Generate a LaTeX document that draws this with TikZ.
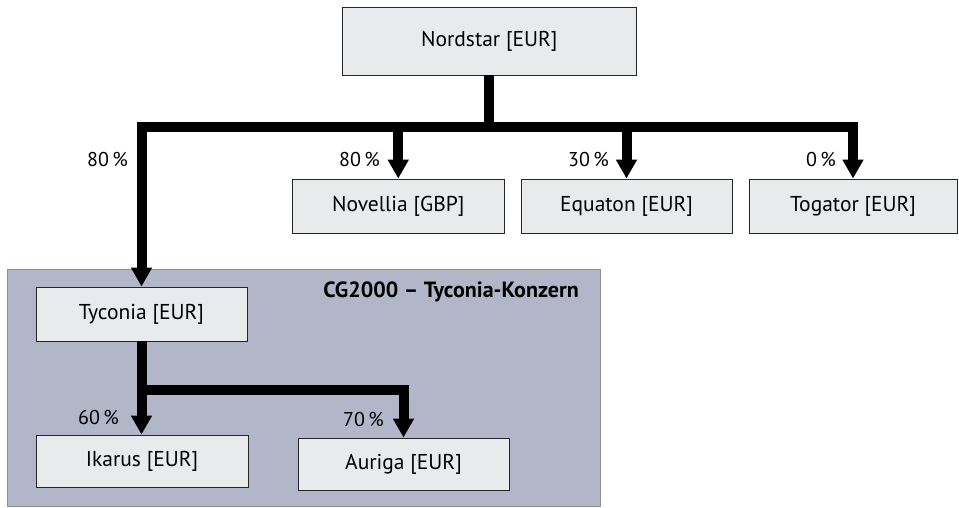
\documentclass[tikz,border=0pt]{standalone}
\usepackage{fontspec}
\setmainfont{PT Sans}
\usetikzlibrary{arrows.meta}
\definecolor{boxfill}{HTML}{E9EAEC}
\definecolor{groupfill}{HTML}{B3B6C9}
\definecolor{groupline}{HTML}{8E8E93}
\begin{document}
\begin{tikzpicture}[x=1pt,y=-1pt,
  entity/.style={draw=black!85,line width=0.9pt,fill=boxfill,inner sep=0pt,
    font=\fontsize{21.5}{25}\selectfont},
  group/.style={draw=groupline,line width=1pt,fill=groupfill,inner sep=0pt},
  link/.style={line width=10pt},
  share/.style={link,-{Triangle[width=20pt,length=19pt]}},
  pct/.style={anchor=east,inner sep=0pt,font=\fontsize{20}{24}\selectfont}]
\useasboundingbox (0,0) rectangle (959,508);

% group frame of the Tyconia sub-group
\node[group,minimum width=593pt,minimum height=237pt] (konzern) at (303.5,387.5) {};
\node[anchor=east,inner sep=0pt,font=\fontsize{22}{26}\selectfont\bfseries] (title) at (579,292) {CG2000 -- Tyconia-Konzern};

% companies
\node[entity,minimum width=293.5pt,minimum height=68pt] (nord) at (489.25,41) {Nordstar [EUR]};
\node[entity,minimum width=211.5pt,minimum height=54pt] (nov) at (398.25,206) {Novellia [GBP]};
\node[entity,minimum width=211pt,minimum height=54pt] (equ) at (626.5,206) {Equaton [EUR]};
\node[entity,minimum width=208pt,minimum height=54pt] (tog) at (853,206) {Togator [EUR]};
\node[entity,minimum width=211pt,minimum height=54pt] (tyc) at (141.5,314) {Tyconia [EUR]};
\node[entity,minimum width=212pt,minimum height=52pt] (ika) at (142,461) {Ikarus [EUR]};
\node[entity,minimum width=211pt,minimum height=52pt] (aur) at (403.5,464) {Auriga [EUR]};

% ownership links from Nordstar
\draw[link] (nord.south) -- ++(0,52) coordinate (hub);
\draw[share] (hub) -| (tyc.north);
\draw[share] (hub) -| (nov.north);
\draw[share] (hub) -| (equ.north);
\draw[share] (hub) -| (tog.north);

% ownership links from Tyconia
\draw[link] (tyc.south) -- ++(0,48.5) coordinate (sub);
\draw[share] (sub) -- (sub |- ika.north);
\draw[share] (sub) -| (aur.north);

% shares
\node[pct] (p1) at (128,159) {80\,\%};
\node[pct] (p2) at (380,159) {80\,\%};
\node[pct] (p3) at (609,159) {30\,\%};
\node[pct] (p4) at (836,159) {0\,\%};
\node[pct] (p5) at (119,417) {60\,\%};
\node[pct] (p6) at (384,419) {70\,\%};
\end{tikzpicture}
\end{document}
